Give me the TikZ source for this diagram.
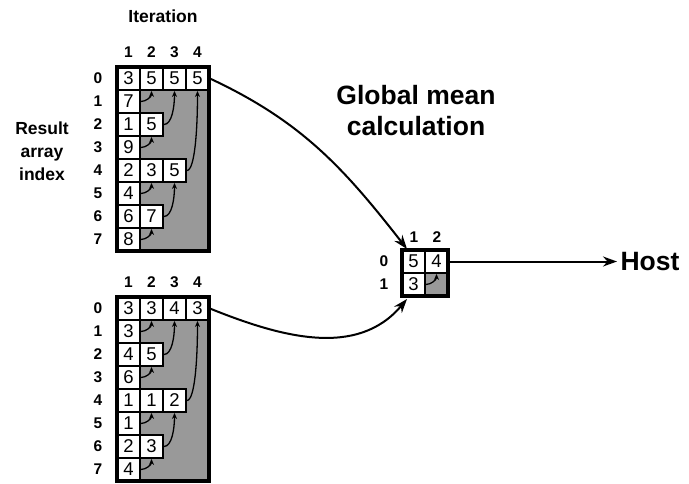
\documentclass[tikz,border=0pt]{standalone}
\usepackage{fontspec}
\setmainfont{Liberation Sans}
\usetikzlibrary{arrows.meta}
\definecolor{fillgray}{RGB}{153,153,153}
\tikzset{
  cell/.style={draw, line width=1.8pt, fill=white, minimum size=23pt, inner sep=0pt,
    font=\fontsize{18.5}{18.5}\selectfont},
  frame/.style={draw, line width=3.4pt, inner sep=0pt, outer sep=0pt},
  hdr/.style={font=\bfseries\fontsize{15.5}{15.5}\selectfont, inner sep=0pt},
  lbl/.style={font=\bfseries\fontsize{17.5}{23}\selectfont, align=center},
  big/.style={font=\bfseries\fontsize{26.5}{31}\selectfont, align=center},
  minor/.style={line width=1.3pt, -{Stealth[length=6pt,width=5pt]}},
  major/.style={line width=2pt, -{Stealth[length=14pt,width=10pt]}},
}
\begin{document}
\begin{tikzpicture}[x=1pt,y=-1pt]
\useasboundingbox (0,0) rectangle (689,483);

% ---------- labels ----------
\node[lbl] (iter) at (163,16) {Iteration};
\node[lbl] (rai) at (42,151) {Result\\array\\index};
\node[big] (gmc) at (416,111) {Global mean\\calculation};

% ---------- top array ----------
\node[frame, fill=fillgray, minimum width=92pt, minimum height=184pt] (topframe) at (163,159) {};
\foreach \r/\c/\v in {0/1/3,0/2/5,0/3/5,0/4/5,1/1/7,2/1/1,2/2/5,3/1/9,4/1/2,4/2/3,4/3/5,5/1/4,6/1/6,6/2/7,7/1/8}
  \node[cell] (t-\r-\c) at ({117+23*(\c-1)+11.5},{67+23*\r+11.5}) {\v};
\draw[line width=3.4pt] (topframe.north west) rectangle (topframe.south east);
\foreach \c in {1,...,4} \node[hdr] (th\c) at ({117+23*\c-11.5},52) {\c};
\foreach \r in {0,...,7} \node[hdr] (tr\r) at (98,{67+23*\r+11.5}) {\r};
\foreach \a/\b/\o/\i in {1-1/0-2/5/6,3-1/2-2/5/6,5-1/4-2/5/6,7-1/6-2/5/6,2-2/0-3/8/16,6-2/4-3/8/16,4-3/0-4/8/38}
  \draw[minor] (t-\a.east) to[out=0,in=-90,out distance=\o pt,in distance=\i pt] (t-\b.south);

% ---------- bottom array ----------
\node[frame, fill=fillgray, minimum width=92pt, minimum height=184pt] (botframe) at (163,389) {};
\foreach \r/\c/\v in {0/1/3,0/2/3,0/3/4,0/4/3,1/1/3,2/1/4,2/2/5,3/1/6,4/1/1,4/2/1,4/3/2,5/1/1,6/1/2,6/2/3,7/1/4}
  \node[cell] (b-\r-\c) at ({117+23*(\c-1)+11.5},{297+23*\r+11.5}) {\v};
\draw[line width=3.4pt] (botframe.north west) rectangle (botframe.south east);
\foreach \c in {1,...,4} \node[hdr] (bh\c) at ({117+23*\c-11.5},282) {\c};
\foreach \r in {0,...,7} \node[hdr] (br\r) at (98,{297+23*\r+11.5}) {\r};
\foreach \a/\b/\o/\i in {1-1/0-2/5/6,3-1/2-2/5/6,5-1/4-2/5/6,7-1/6-2/5/6,2-2/0-3/8/16,6-2/4-3/8/16,4-3/0-4/8/38}
  \draw[minor] (b-\a.east) to[out=0,in=-90,out distance=\o pt,in distance=\i pt] (b-\b.south);

% ---------- small array ----------
\node[frame, fill=fillgray, minimum width=46pt, minimum height=46pt] (small) at (425,273) {};
\foreach \r/\c/\v in {0/1/5,0/2/4,1/1/3}
  \node[cell] (s-\r-\c) at ({402+23*(\c-1)+11.5},{250+23*\r+11.5}) {\v};
\draw[line width=3.4pt] (small.north west) rectangle (small.south east);
\node[hdr] (sh1) at (414,237) {1};
\node[hdr] (sh2) at (437,237) {2};
\node[hdr] (sr0) at (384,261.5) {0};
\node[hdr] (sr1) at (384,284.5) {1};
\draw[minor] (s-1-1.east) to[out=0,in=-90,out distance=5pt,in distance=6pt] (s-0-2.south);

% ---------- big connectors ----------
\draw[major] (t-0-4.east) to[out=-25,in=128] ([xshift=5pt,yshift=1pt]small.north west);
\draw[major] (b-0-4.east) to[out=-22,in=-130] ([xshift=5pt,yshift=-3pt]small.south west);

\node[big, anchor=west] (host) at (617,262) {Host};
\draw[major] (s-0-2.east) -- (s-0-2.east -| host.west);
\end{tikzpicture}
\end{document}
